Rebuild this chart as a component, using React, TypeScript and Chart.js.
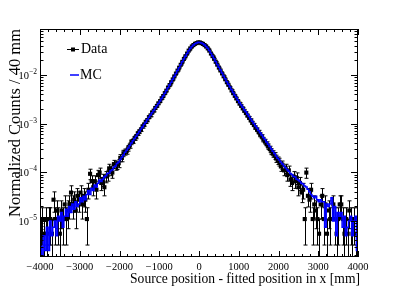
import React, { useEffect, useRef } from 'react';
import { Chart, registerables } from 'chart.js';

Chart.register(...registerables);

// Histogram binning: 200 bins of 40 mm from -4000 to 4000 mm
const BIN_LOW = -4000;
const BIN_WIDTH = 40;
const N_BINS = 200;
const binCenters: number[] = Array.from({ length: N_BINS }, (_, i) => BIN_LOW + BIN_WIDTH * (i + 0.5));

// normalized weight of a single data entry (for Poisson error bars)
const DATA_UNIT = 5.5e-6;

const dataValues: (number | null)[] = [
  // -3980 .. -3620
  5.5e-6, 1.1e-5, 5.5e-6, 1.1e-5, 5.5e-6, 1.1e-5, 1.1e-5, 5.5e-6, 2.75e-5, 1.1e-5,
  // -3580 .. -3220
  1.65e-5, 1.1e-5, 5.5e-6, 1.65e-5, 1.1e-5, 2.2e-5, 1.1e-5, 1.65e-5, 2.2e-5, 3.85e-5,
  // -3180 .. -2820
  2.2e-5, 2.75e-5, 1.65e-5, 3.3e-5, 2.75e-5, 3.85e-5, 2.2e-5, 3.3e-5, 2.75e-5, 1.1e-5,
  // -2780 .. -2420
  4.4e-5, 9.35e-5, 6.6e-5, 4.95e-5, 6.6e-5, 4.4e-5, 8.8e-5, 9.9e-5, 6.05e-5, 7.15e-5,
  // -2380 .. -2020
  4.95e-5, 8.25e-5, 8.8e-5, 1.21e-4, 1.1e-4, 9.9e-5, 1.48e-4, 1.38e-4, 1.43e-4, 1.54e-4,
  // -1980 .. -1620
  1.98e-4, 1.98e-4, 2.47e-4, 2.64e-4, 2.75e-4, 3.14e-4, 3.57e-4, 4.18e-4, 4.40e-4, 5.06e-4,
  // -1580 .. -1220
  5.45e-4, 6.33e-4, 6.88e-4, 7.59e-4, 8.80e-4, 9.57e-4, 1.09e-3, 1.18e-3, 1.36e-3, 1.48e-3,
  // -1180 .. -820
  1.70e-3, 1.85e-3, 2.10e-3, 2.32e-3, 2.62e-3, 2.90e-3, 3.33e-3, 3.70e-3, 4.24e-3, 4.77e-3,
  // -780 .. -420
  5.52e-3, 6.21e-3, 7.10e-3, 8.10e-3, 9.36e-3, 0.0107, 0.0123, 0.0141, 0.0162, 0.0186,
  // -380 .. -20
  0.0214, 0.0243, 0.0275, 0.0316, 0.0351, 0.0385, 0.0412, 0.0437, 0.0452, 0.0467,
  // 20 .. 380
  0.0466, 0.0451, 0.0435, 0.0411, 0.0384, 0.0352, 0.0317, 0.0276, 0.0244, 0.0215,
  // 420 .. 780
  0.0187, 0.0163, 0.0142, 0.0124, 0.0108, 9.40e-3, 8.18e-3, 7.12e-3, 6.28e-3, 5.53e-3,
  // 820 .. 1180
  4.82e-3, 4.24e-3, 3.73e-3, 3.30e-3, 2.91e-3, 2.58e-3, 2.32e-3, 2.06e-3, 1.84e-3, 1.65e-3,
  // 1220 .. 1580
  1.47e-3, 1.32e-3, 1.17e-3, 1.04e-3, 9.40e-4, 8.35e-4, 7.52e-4, 6.70e-4, 5.94e-4, 5.39e-4,
  // 1620 .. 1980
  4.73e-4, 4.29e-4, 3.79e-4, 3.41e-4, 3.03e-4, 2.70e-4, 2.42e-4, 2.20e-4, 1.93e-4, 1.76e-4,
  // 2020 .. 2380
  1.65e-4, 1.32e-4, 1.43e-4, 1.1e-4, 1.21e-4, 8.8e-5, 1.1e-4, 7.15e-5, 6.05e-5, 8.25e-5,
  // 2420 .. 2780
  6.6e-5, 7.7e-5, 4.95e-5, 6.05e-5, 3.85e-5, 4.4e-5, 1.1e-5, 9.9e-5, 3.3e-5, 2.75e-5,
  // 2820 .. 3180
  4.4e-5, 1.1e-5, 2.2e-5, 1.65e-5, 1.1e-5, 5.5e-6, 2.2e-5, 3.3e-5, 1.1e-5, 2.2e-5,
  // 3220 .. 3580
  5.5e-6, 1.65e-5, 1.1e-5, null, 2.2e-5, 1.1e-5, 5.5e-6, 1.1e-5, 2.2e-5, 2.2e-5,
  // 3620 .. 3980
  1.1e-5, 5.5e-6, 1.1e-5, 5.5e-6, 1.65e-5, 1.1e-5, 5.5e-6, 1.1e-5, 5.5e-6, 1.1e-5,
];

const mcValues: number[] = [
  // -3980 .. -3620
  3.0e-6, 1e-8, 5.0e-6, 2.5e-6, 7.5e-6, 2.5e-6, 1.0e-5, 5.0e-6, 7.5e-6, 1.0e-5,
  // -3580 .. -3220
  5.0e-6, 1.25e-5, 1.0e-5, 1.5e-5, 7.5e-6, 1.25e-5, 1.75e-5, 1.25e-5, 2.0e-5, 1.5e-5,
  // -3180 .. -2820
  2.25e-5, 1.75e-5, 2.5e-5, 2.0e-5, 2.25e-5, 3.0e-5, 2.5e-5, 3.25e-5, 2.75e-5, 3.5e-5,
  // -2780 .. -2420
  4.25e-5, 3.5e-5, 4.75e-5, 4.25e-5, 5.5e-5, 5.0e-5, 6.0e-5, 7.0e-5, 6.5e-5, 7.25e-5,
  // -2380 .. -2020
  8.0e-5, 8.5e-5, 9.5e-5, 9.75e-5, 1.08e-4, 1.13e-4, 1.27e-4, 1.36e-4, 1.52e-4, 1.64e-4,
  // -1980 .. -1620
  1.85e-4, 2.05e-4, 2.28e-4, 2.58e-4, 2.86e-4, 3.18e-4, 3.56e-4, 3.99e-4, 4.46e-4, 4.96e-4,
  // -1580 .. -1220
  5.55e-4, 6.18e-4, 6.91e-4, 7.77e-4, 8.60e-4, 9.67e-4, 1.07e-3, 1.20e-3, 1.35e-3, 1.50e-3,
  // -1180 .. -820
  1.68e-3, 1.86e-3, 2.09e-3, 2.34e-3, 2.60e-3, 2.92e-3, 3.31e-3, 3.72e-3, 4.22e-3, 4.79e-3,
  // -780 .. -420
  5.50e-3, 6.24e-3, 7.08e-3, 8.13e-3, 9.33e-3, 0.0107, 0.0123, 0.0141, 0.0162, 0.0186,
  // -380 .. -20
  0.0214, 0.0243, 0.0275, 0.0316, 0.0351, 0.0385, 0.0412, 0.0437, 0.0452, 0.0468,
  // 20 .. 380
  0.0467, 0.0452, 0.0437, 0.0412, 0.0386, 0.0353, 0.0318, 0.0278, 0.0246, 0.0217,
  // 420 .. 780
  0.0189, 0.0165, 0.0144, 0.0126, 0.0110, 9.58e-3, 8.36e-3, 7.30e-3, 6.44e-3, 5.68e-3,
  // 820 .. 1180
  4.95e-3, 4.37e-3, 3.86e-3, 3.43e-3, 3.03e-3, 2.70e-3, 2.43e-3, 2.17e-3, 1.94e-3, 1.75e-3,
  // 1220 .. 1580
  1.56e-3, 1.41e-3, 1.25e-3, 1.12e-3, 1.01e-3, 9.0e-4, 8.12e-4, 7.26e-4, 6.48e-4, 5.85e-4,
  // 1620 .. 1980
  5.22e-4, 4.72e-4, 4.21e-4, 3.77e-4, 3.39e-4, 3.03e-4, 2.72e-4, 2.44e-4, 2.17e-4, 1.95e-4,
  // 2020 .. 2380
  1.80e-4, 1.62e-4, 1.48e-4, 1.35e-4, 1.24e-4, 1.13e-4, 1.05e-4, 9.5e-5, 9.0e-5, 8.25e-5,
  // 2420 .. 2780
  8.0e-5, 7.25e-5, 7.0e-5, 6.5e-5, 6.0e-5, 5.75e-5, 5.25e-5, 5.0e-5, 4.5e-5, 4.0e-5,
  // 2820 .. 3180
  3.5e-5, 3.25e-5, 3.0e-5, 3.25e-5, 2.75e-5, 2.5e-5, 2.75e-5, 2.5e-5, 2.5e-5, 7.5e-6,
  // 3220 .. 3580
  2.25e-5, 2.0e-5, 2.25e-5, 3.0e-5, 1.0e-5, 2.0e-5, 5.0e-6, 1.5e-5, 1.25e-5, 1.5e-5,
  // 3620 .. 3980
  7.5e-6, 1.25e-5, 5.0e-6, 7.5e-6, 1.0e-5, 1.25e-5, 5.0e-6, 1.0e-5, 1.25e-5, 2.5e-6,
];

const xTickValues: number[] = [-4000, -3000, -2000, -1000, 0, 1000, 2000, 3000, 4000];
const yTickValues: number[] = [1e-5, 1e-4, 1e-3, 1e-2];
const yTickExponents: string[] = ['\u22125', '\u22124', '\u22123', '\u22122'];

const X_MIN = -4000;
const X_MAX = 4000;
const Y_MIN = 1.83e-6;
const Y_MAX = 0.088;

const xTitle = 'Source position - fitted position in x [mm]';
const yTitle = 'Normalized Counts / 40 mm';
const SERIF = '"Liberation Serif", "Times New Roman", serif';

const rootStyle = {
  id: 'rootStyle',
  beforeDatasetsDraw(chart: any) {
    const ctx = chart.ctx as CanvasRenderingContext2D;
    const { left, right, top, bottom } = chart.chartArea;
    const xs = chart.scales.x;
    const ys = chart.scales.y;
    ctx.save();
    ctx.beginPath();
    ctx.rect(left, top, right - left, bottom - top);
    ctx.clip();
    ctx.strokeStyle = '#000';
    ctx.lineWidth = 1;
    dataValues.forEach((v, i) => {
      if (v == null) return;
      const e = Math.sqrt(v * DATA_UNIT);
      const px = Math.round(xs.getPixelForValue(binCenters[i])) + 0.5;
      const yHi = ys.getPixelForValue(v + e);
      const lo = v - e;
      const yLo = lo > 1e-12 ? ys.getPixelForValue(lo) : bottom + 10;
      ctx.beginPath();
      ctx.moveTo(px, yHi);
      ctx.lineTo(px, yLo);
      ctx.moveTo(px - 2, yHi);
      ctx.lineTo(px + 2, yHi);
      if (lo > 1e-12) {
        ctx.moveTo(px - 2, yLo);
        ctx.lineTo(px + 2, yLo);
      }
      ctx.stroke();
    });
    ctx.restore();
  },
  afterDraw(chart: any) {
    const ctx = chart.ctx as CanvasRenderingContext2D;
    const { left, right, top, bottom } = chart.chartArea;
    const xs = chart.scales.x;
    const ys = chart.scales.y;
    ctx.save();
    ctx.strokeStyle = '#000';
    ctx.fillStyle = '#000';
    ctx.lineWidth = 1;
    // frame
    ctx.strokeRect(left + 0.5, top + 0.5, right - left - 1, bottom - top - 1);
    // x ticks (inside, bottom and top)
    ctx.beginPath();
    for (let v = X_MIN; v <= X_MAX; v += 200) {
      const px = Math.round(xs.getPixelForValue(v)) + 0.5;
      const len = v % 1000 === 0 ? 6 : 3;
      ctx.moveTo(px, bottom);
      ctx.lineTo(px, bottom - len);
      ctx.moveTo(px, top);
      ctx.lineTo(px, top + len);
    }
    // y ticks (log, inside, left and right)
    for (let d = -7; d <= -1; d++) {
      for (let k = 1; k <= 9; k++) {
        const v = k * Math.pow(10, d);
        if (v < Y_MIN || v > Y_MAX) continue;
        const py = Math.round(ys.getPixelForValue(v)) + 0.5;
        const len = k === 1 ? 7 : 3.5;
        ctx.moveTo(left, py);
        ctx.lineTo(left + len, py);
        ctx.moveTo(right, py);
        ctx.lineTo(right - len, py);
      }
    }
    ctx.stroke();

    // x tick labels
    ctx.font = `10.5px ${SERIF}`;
    ctx.textAlign = 'center';
    ctx.textBaseline = 'alphabetic';
    xTickValues.forEach((v) => {
      const px = xs.getPixelForValue(v);
      const s = v < 0 ? '\u2212' + Math.abs(v) : String(v);
      ctx.fillText(s, px, bottom + 13);
    });

    // y tick labels 10^n
    yTickValues.forEach((v, i) => {
      const py = ys.getPixelForValue(v);
      ctx.font = `7.5px ${SERIF}`;
      const we = ctx.measureText(yTickExponents[i]).width;
      ctx.textAlign = 'left';
      ctx.fillText(yTickExponents[i], 37 - we, py - 1);
      ctx.font = `10.5px ${SERIF}`;
      ctx.textAlign = 'right';
      ctx.fillText('10', 37 - we, py + 4);
    });

    // axis titles
    ctx.font = `13.6px ${SERIF}`;
    ctx.textAlign = 'right';
    ctx.fillText(xTitle, 360, 283);
    ctx.save();
    ctx.font = `16.5px ${SERIF}`;
    ctx.translate(20, top);
    ctx.rotate(-Math.PI / 2);
    ctx.textAlign = 'right';
    ctx.fillText(yTitle, 0, 0);
    ctx.restore();

    // legend
    const ds = chart.data.datasets;
    ctx.font = `14px ${SERIF}`;
    ctx.textAlign = 'left';
    // Data entry
    ctx.beginPath();
    ctx.moveTo(67, 49.5);
    ctx.lineTo(79, 49.5);
    ctx.stroke();
    ctx.fillStyle = ds[1].backgroundColor;
    ctx.fillRect(71, 47.5, 4, 4);
    ctx.fillStyle = '#000';
    ctx.fillText(ds[1].label, 81, 53);
    // MC entry
    ctx.strokeStyle = ds[0].borderColor;
    ctx.lineWidth = 1.5;
    ctx.beginPath();
    ctx.moveTo(70, 75);
    ctx.lineTo(79, 75);
    ctx.stroke();
    ctx.fillText(ds[0].label, 80, 79);
    ctx.restore();
  },
};

export default function App() {
  const canvasRef = useRef<HTMLCanvasElement | null>(null);

  useEffect(() => {
    const canvas = canvasRef.current;
    if (!canvas) return;
    const mcPoints = binCenters.map((x, i) => ({ x, y: mcValues[i] }));
    const dataPoints = binCenters.map((x, i) => ({ x, y: dataValues[i] }));
    const chart = new Chart(canvas, {
      type: 'line',
      data: {
        datasets: [
          {
            label: 'MC',
            data: mcPoints,
            stepped: 'middle',
            borderColor: '#0000ff',
            backgroundColor: '#0000ff',
            borderWidth: 1.5,
            pointRadius: 0,
            fill: false,
            order: 0,
          },
          {
            label: 'Data',
            data: dataPoints as any,
            showLine: false,
            pointStyle: 'rect',
            pointRadius: 2.9,
            pointHoverRadius: 2.9,
            backgroundColor: '#000000',
            borderColor: '#000000',
            borderWidth: 0,
            order: 1,
          },
        ],
      },
      options: {
        responsive: false,
        animation: false,
        events: [],
        layout: { padding: { left: 40, right: 41, top: 29, bottom: 29 } },
        plugins: { legend: { display: false }, tooltip: { enabled: false } },
        scales: {
          x: { type: 'linear', min: X_MIN, max: X_MAX, display: false },
          y: { type: 'logarithmic', min: Y_MIN, max: Y_MAX, display: false },
        },
      },
      plugins: [rootStyle],
    });
    return () => chart.destroy();
  }, []);

  return (
    <div style={{ position: 'absolute', left: 0, top: 0, width: 399, height: 286, background: '#fff' }}>
      <canvas ref={canvasRef} width={399} height={286} style={{ display: 'block', width: 399, height: 286 }} />
    </div>
  );
}
